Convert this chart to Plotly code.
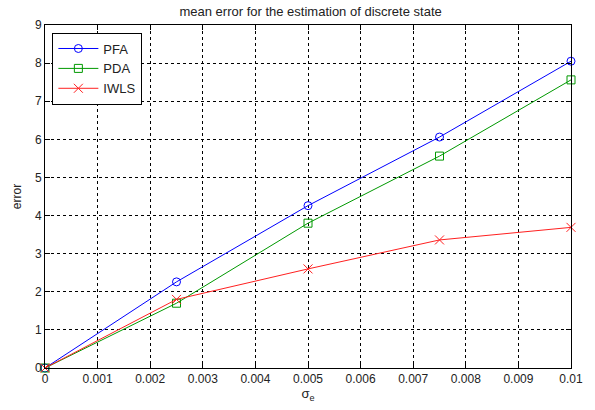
import plotly.graph_objects as go

# Noise level sigma_e and mean error of each estimator
sigma_e = [0, 0.0025, 0.005, 0.0075, 0.01]
pfa = [0, 2.26, 4.26, 6.06, 8.05]
pda = [0, 1.70, 3.80, 5.56, 7.56]
iwls = [0, 1.80, 2.60, 3.36, 3.69]

x_ticks = [0, 0.001, 0.002, 0.003, 0.004, 0.005, 0.006, 0.007, 0.008, 0.009, 0.01]
x_tick_text = ["0", "0.001", "0.002", "0.003", "0.004", "0.005", "0.006",
               "0.007", "0.008", "0.009", "0.01"]
y_ticks = list(range(10))

font = dict(family="Arial, Liberation Sans, sans-serif", size=12, color="#222222")

fig = go.Figure()
fig.add_trace(go.Scatter(
    x=sigma_e, y=pfa, name="PFA", mode="lines+markers",
    line=dict(color="#0000ff", width=1),
    marker=dict(symbol="circle-open", size=8, color="#0000ff", line=dict(width=1)),
    cliponaxis=False))
fig.add_trace(go.Scatter(
    x=sigma_e, y=pda, name="PDA", mode="lines+markers",
    line=dict(color="#009900", width=1),
    marker=dict(symbol="square-open", size=8, color="#009900", line=dict(width=1)),
    cliponaxis=False))
fig.add_trace(go.Scatter(
    x=sigma_e, y=iwls, name="IWLS", mode="lines+markers",
    line=dict(color="#ff2020", width=1),
    marker=dict(symbol="x-thin-open", size=9, color="#ff2020", line=dict(width=1, color="#ff2020")),
    cliponaxis=False))

axis_common = dict(
    showgrid=True, gridcolor="#000000", gridwidth=1, griddash="3px,3px",
    showline=True, linecolor="#000000", linewidth=1, mirror="ticks",
    ticks="inside", ticklen=5, tickcolor="#000000",
    zeroline=False, tickfont=font,
)

fig.update_xaxes(range=[0, 0.01], tickvals=x_ticks, ticktext=x_tick_text,
                 title=dict(text="σ<sub>e</sub>", font=dict(family=font["family"], size=13, color="#222222"),
                            standoff=2),
                 **axis_common)
fig.update_yaxes(range=[0, 9], tickvals=y_ticks,
                 title=dict(text="error", font=dict(family=font["family"], size=12, color="#222222"),
                            standoff=10),
                 **axis_common)

fig.update_layout(
    width=595, height=410,
    margin=dict(l=45, r=21, t=25, b=41),
    paper_bgcolor="white", plot_bgcolor="white",
    font=font,
    title=dict(text="mean error for the estimation of discrete state",
               x=0.522, xanchor="center", y=0.972, yanchor="middle",
               font=dict(family=font["family"], size=13, color="#222222")),
    legend=dict(x=0.014, y=0.978, xanchor="left", yanchor="top",
                bordercolor="#000000", borderwidth=1, bgcolor="white",
                font=dict(family=font["family"], size=13, color="#222222"),
                tracegroupgap=0, itemwidth=40),
    showlegend=True,
)

fig.write_html("out.html")
